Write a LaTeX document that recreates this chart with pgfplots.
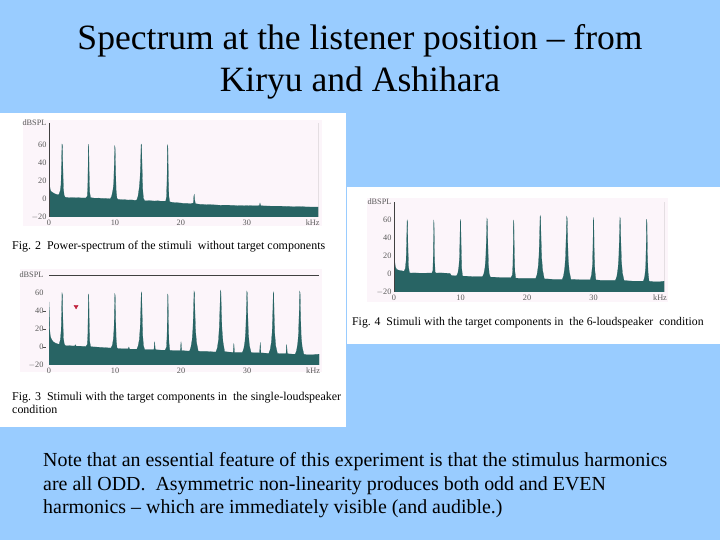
\documentclass[border=0pt]{standalone}
\usepackage{fontspec}
\setmainfont{Liberation Serif}
\usepackage{pgfplots}
\pgfplotsset{compat=1.18}
\definecolor{slideblue}{HTML}{99CCFF}
\definecolor{spec}{HTML}{286464}
\definecolor{pinkbg}{HTML}{FCF5FA}
\definecolor{marker}{HTML}{C0203A}
\pgfplotsset{
  specax/.style={
    scale only axis, anchor=south west, clip=true,
    axis line style={draw=none},
    major tick length=0pt,
    xmin=0, ymin=-20,
    tick label style={font=\fontsize{8.3}{9}\selectfont, text=black!65},
    xtick={0,10,20,30,40}, xticklabels={0,10,20,30,kHz},
    xticklabel style={yshift=1pt},
    yticklabel style={xshift=1pt},
  }
}
\begin{document}
\begin{tikzpicture}[x=1bp,y=1bp]
\fill[slideblue] (0,0) rectangle (720,540);
\fill[white] (0,427) rectangle (346,113);
\fill[white] (347,353) rectangle (720,196);
\fill[pinkbg] (23,420) rectangle (322,314);
\fill[pinkbg] (20,271) rectangle (322,168);
\fill[pinkbg] (367,342) rectangle (668,238);
% title
\node[anchor=base, font=\fontsize{35.7}{40}\selectfont] at (360,490) {Spectrum at the listener position – from};
\node[anchor=base, font=\fontsize{35.7}{40}\selectfont] at (360,448) {Kiryu and Ashihara};
% captions
\node[anchor=base west, inner sep=0pt, font=\fontsize{12}{13}\selectfont] at (12,290) {Fig. 2\ \ Power-spectrum of the stimuli\ \ without target components};
\node[anchor=base west, inner sep=0pt, font=\fontsize{12}{13}\selectfont] at (12,139) {Fig. 3\ \ Stimuli with the target components in\ \ the single-loudspeaker};
\node[anchor=base west, inner sep=0pt, font=\fontsize{12}{13}\selectfont] at (12,126) {condition};
\node[anchor=base west, inner sep=0pt, font=\fontsize{11.8}{13}\selectfont] at (352,214) {Fig. 4\ \ Stimuli with the target components in\ \ the 6-loudspeaker\ \ condition};
% note
\node[anchor=base west, inner sep=0pt, font=\fontsize{20}{22}\selectfont] at (43,73) {Note that an essential feature of this experiment is that the stimulus harmonics};
\node[anchor=base west, inner sep=0pt, font=\fontsize{20}{22}\selectfont] at (43,49) {are all ODD.\ \ Asymmetric non-linearity produces both odd and EVEN};
\node[anchor=base west, inner sep=0pt, font=\fontsize{20}{22}\selectfont] at (43,26) {harmonics – which are immediately visible (and audible.)};

% ---------------- Fig. 2 ----------------
\begin{axis}[specax, at={(49bp,323bp)}, width=269bp, height=94bp,
  xmax=40.8, ymax=84.4,
  ytick={-20,0,20,40,60,84.4}, yticklabels={$-$20,0,20,40,60,dBSPL}]
\addplot[fill=spec, draw=spec, line width=0.2pt] coordinates {
(0,-20) (0,30) (0.05,22) (0.12,14) (0.2,10) (0.35,8) (0.5,7.5) (0.8,6) (1.1,5.2) (1.3,4.8)
(1.5,4.8) (1.7,9) (1.82,16) (1.9,38) (1.97,61) (2.03,60) (2.1,36) (2.18,12) (2.3,4) (2.45,2)
(2.6,1.8) (3.0,1.5) (3.5,1.6) (4.0,1.3) (4.5,1.4) (5.0,1.1) (5.4,1.2)
(5.6,1.2) (5.8,3) (5.88,12) (5.93,35) (5.98,61) (6.03,58) (6.09,30) (6.16,8) (6.3,1.5)
(6.6,1.2) (7.0,0.8) (7.5,1) (8.0,0.6) (8.5,0.7) (9.0,0.3)
(9.3,0.2) (9.5,3) (9.7,10) (9.82,18) (9.9,38) (9.97,59) (10.03,57) (10.1,32) (10.18,10) (10.3,1) (10.45,-0.5)
(10.8,-0.6) (11.5,-0.8) (12.0,-1.2) (12.5,-1) (13.0,-1.5)
(13.3,-1.3) (13.5,3) (13.68,12) (13.8,22) (13.9,40) (13.97,61) (14.04,60) (14.11,38) (14.2,12) (14.32,1) (14.5,-1.8)
(14.8,-1.8) (15.5,-2) (16.0,-2.3) (16.5,-2) (17.0,-2.5) (17.5,-2.4)
(17.7,-2.4) (17.82,2) (17.9,20) (17.97,60) (18.03,58) (18.1,25) (18.18,3) (18.3,-3)
(18.5,-3.5) (19.0,-4) (19.5,-4.2) (20.0,-4.5) (20.5,-5) (21.0,-5) (21.5,-5.2)
(21.9,-4.5) (21.97,3) (22.03,5) (22.1,-1) (22.2,-5)
(22.4,-5.5) (23,-6) (24,-6.3) (25,-6.5) (26,-7) (27,-6.8) (28,-7.2) (29,-7.5) (30,-7.3) (31,-7.6) (31.9,-7.5) (32.0,-4.5) (32.1,-7.5) (33,-7.8) (34,-8) (35,-8) (36,-8.2) (37,-8.5) (38,-8.4) (39,-8.8) (40,-9) (40.8,-9) (40.8,-20)
};
\draw[black!75, line width=0.6pt] (rel axis cs:0,0) -- (rel axis cs:0,1);
\draw[black!75, line width=0.6pt] (rel axis cs:1,0) -- (rel axis cs:1,1);
\end{axis}

% ---------------- Fig. 3 ----------------
\begin{axis}[specax, at={(49bp,175bp)}, width=270bp, height=90bp,
  xmax=40.9, ymax=80,
  ytick={-20,0,20,40,60,80}, yticklabels={$-$20,0,20,40,60,dBSPL},
  yticklabel style={xshift=-3pt}]
\addplot[fill=spec, draw=spec, line width=0.2pt] coordinates {
(0,-20) (0,50) (0.04,40) (0.1,20) (0.2,12) (0.35,9) (0.6,6) (1.0,4.2) (1.4,3.2)
(1.55,3.2) (1.72,8) (1.84,18) (1.91,38) (1.97,60) (2.03,58) (2.1,32) (2.18,10) (2.32,3) (2.5,1.5)
(3.0,1.5) (3.5,1.2) (3.95,1.3) (4.0,2.5) (4.1,1) (5.0,0.8) (5.6,0.5)
(5.8,3) (5.88,12) (5.93,35) (5.98,59) (6.03,57) (6.09,28) (6.17,6) (6.3,0.3)
(7.0,0) (8.0,-0.5) (9.0,-1) (9.4,-1)
(9.6,2) (9.75,9) (9.85,20) (9.91,38) (9.97,59) (10.03,57) (10.1,30) (10.18,8) (10.3,-1) (10.5,-1.8)
(11,-2) (12.0,-2) (12.1,0) (12.2,-2.5) (13,-2.5) (13.3,-2.5)
(13.5,1) (13.68,8) (13.8,20) (13.9,40) (13.97,61) (14.04,59) (14.11,36) (14.2,12) (14.32,1) (14.5,-3)
(15,-3) (15.9,-3) (16.0,6) (16.1,-3) (17,-3.5) (17.6,-3.5)
(17.8,0) (17.88,12) (17.93,35) (17.98,59) (18.03,57) (18.09,28) (18.17,5) (18.3,-3.8)
(19,-4) (19.9,-4) (20.0,6) (20.1,-4) (21,-4.5) (21.3,-4.5)
(21.5,0) (21.68,8) (21.8,20) (21.9,42) (21.97,62) (22.04,60) (22.11,38) (22.2,18) (22.35,5) (22.6,-4.5)
(23,-5) (24,-5) (25,-5.5) (25.3,-5.5)
(25.5,-1) (25.68,8) (25.8,22) (25.9,44) (25.97,63) (26.04,61) (26.11,40) (26.2,20) (26.35,6) (26.6,-5)
(27,-5.5) (27.9,-6) (28.0,4) (28.1,-6) (29,-6) (29.3,-6)
(29.5,-2) (29.68,6) (29.8,18) (29.9,40) (29.97,62) (30.04,60) (30.11,36) (30.2,15) (30.35,2) (30.6,-6)
(31,-6.5) (31.9,-6.5) (32.0,5) (32.1,-6.5) (33,-7) (33.3,-7)
(33.5,-3) (33.68,5) (33.8,16) (33.9,38) (33.97,61) (34.04,59) (34.11,34) (34.2,14) (34.35,1) (34.6,-7)
(35,-7.5) (35.9,-7.5) (36.0,3) (36.1,-7.5) (37,-8) (37.3,-8)
(37.5,-4) (37.68,4) (37.8,15) (37.9,38) (37.97,62) (38.04,60) (38.11,34) (38.2,12) (38.35,0) (38.6,-8)
(39,-8.5) (40,-8.5) (40.9,-8) (40.9,-20)
};
\addplot[only marks, mark=triangle*, mark size=2.4pt, mark options={rotate=180, fill=marker, draw=marker}] coordinates {(4.1,45)};
\draw[black!75, line width=0.6pt] (rel axis cs:0,1) -- (rel axis cs:1,1);
\end{axis}
\draw[black!70, line width=0.5pt] (43,229) -- (46,229);
\draw[black!70, line width=0.5pt] (43,211) -- (46,211);
\draw[black!70, line width=0.5pt] (43,193) -- (46,193);

% ---------------- Fig. 4 ----------------
\begin{axis}[specax, at={(394bp,248bp)}, width=270bp, height=90bp,
  xmax=40.6, ymax=80,
  ytick={-20,0,20,40,60,80}, yticklabels={$-$20,0,20,40,60,dBSPL}]
\addplot[fill=spec, draw=spec, line width=0.2pt] coordinates {
(0,-20) (0,46) (0.04,35) (0.1,15) (0.2,8) (0.4,5) (0.8,4) (1.2,3.5) (1.5,3)
(1.7,6) (1.82,15) (1.9,35) (1.97,60) (2.03,58) (2.1,30) (2.18,8) (2.32,1.5) (2.5,1)
(3,1.2) (4,0.9) (5,1) (5.7,1)
(5.85,4) (5.92,25) (5.98,60) (6.03,55) (6.09,18) (6.18,2) (6.35,1)
(7,1.2) (8,0.8) (8.4,0.8) (8.6,-1.5) (9,-2) (9.4,-2)
(9.6,1) (9.75,8) (9.85,18) (9.91,36) (9.97,60) (10.03,58) (10.1,30) (10.18,6) (10.3,-2) (10.5,-2.5)
(11,-2.5) (12,-3) (13,-3) (13.3,-3)
(13.5,0) (13.68,7) (13.8,18) (13.9,40) (13.97,62) (14.04,60) (14.11,34) (14.2,10) (14.32,0) (14.5,-3.5)
(15,-3.5) (16,-4) (17,-4) (17.6,-4)
(17.8,-1) (17.88,10) (17.93,32) (17.98,60) (18.03,56) (18.09,24) (18.17,3) (18.3,-4.5)
(19,-5) (20,-5) (21,-5) (21.3,-5)
(21.5,-1) (21.68,8) (21.8,20) (21.9,44) (21.97,65) (22.04,63) (22.11,40) (22.2,18) (22.35,4) (22.6,-5.5)
(23,-5.5) (24,-6) (25,-6) (25.3,-6)
(25.5,-2) (25.68,7) (25.8,20) (25.9,44) (25.97,64) (26.04,62) (26.11,38) (26.2,16) (26.35,3) (26.6,-6)
(27,-6) (28,-6.5) (29,-6.5) (29.5,-6.5)
(29.7,-1) (29.85,10) (29.92,32) (29.98,63) (30.04,58) (30.1,26) (30.2,4) (30.35,-6.5)
(31,-7) (32,-7) (33,-7) (33.3,-7)
(33.5,-3) (33.68,6) (33.8,18) (33.9,42) (33.97,63) (34.04,61) (34.11,36) (34.2,14) (34.35,1) (34.6,-7.5)
(35,-7.5) (36,-8) (37,-8) (37.5,-8)
(37.7,-3) (37.85,8) (37.92,30) (37.98,61) (38.04,57) (38.1,24) (38.2,2) (38.35,-8)
(39,-8.5) (40,-8.5) (40.6,-8) (40.6,-20)
};
\draw[black!75, line width=0.6pt] (rel axis cs:0,0) -- (rel axis cs:0,1);
\draw[black!75, line width=0.6pt] (rel axis cs:1,0) -- (rel axis cs:1,1);
\end{axis}
\end{tikzpicture}
\end{document}
